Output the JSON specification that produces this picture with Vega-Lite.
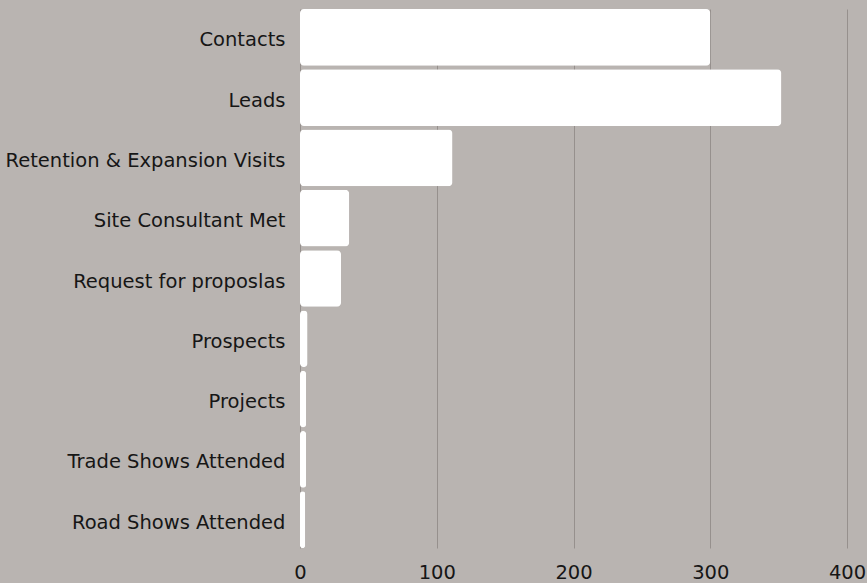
{
  "$schema": "https://vega.github.io/schema/vega-lite/v6.json",
  "autosize": "none",
  "width": 547,
  "height": 539,
  "padding": {"left": 300, "top": 9, "right": 20, "bottom": 35},
  "background": "#b9b4b1",
  "data": {
    "values": [
      {"category": "Contacts", "value": 300},
      {"category": "Leads", "value": 352},
      {"category": "Retention & Expansion Visits", "value": 111.5},
      {"category": "Site Consultant Met", "value": 36},
      {"category": "Request for proposlas", "value": 30},
      {"category": "Prospects", "value": 5.5},
      {"category": "Projects", "value": 4.5},
      {"category": "Trade Shows Attended", "value": 4.5},
      {"category": "Road Shows Attended", "value": 3.8}
    ]
  },
  "config": {
    "view": {"stroke": null},
    "font": "DejaVu Sans"
  },
  "mark": {"type": "bar", "color": "#ffffff", "cornerRadius": 4},
  "encoding": {
    "y": {
      "field": "category",
      "type": "nominal",
      "sort": null,
      "scale": {"paddingInner": 0.06, "paddingOuter": 0},
      "axis": {
        "title": null,
        "domain": false,
        "ticks": false,
        "labelPadding": 15,
        "labelOffset": 3,
        "labelFontSize": 19.5,
        "labelColor": "#161616",
        "labelFont": "DejaVu Sans",
        "labelLimit": 400
      }
    },
    "x": {
      "field": "value",
      "type": "quantitative",
      "scale": {"domain": [0, 400], "nice": false},
      "axis": {
        "title": null,
        "domain": false,
        "ticks": false,
        "values": [0, 100, 200, 300, 400],
        "grid": true,
        "gridColor": "#96908d",
        "gridWidth": 1,
        "labelPadding": 15,
        "labelFontSize": 19.5,
        "labelColor": "#161616",
        "labelFont": "DejaVu Sans",
        "labelFlush": false
      }
    }
  }
}
